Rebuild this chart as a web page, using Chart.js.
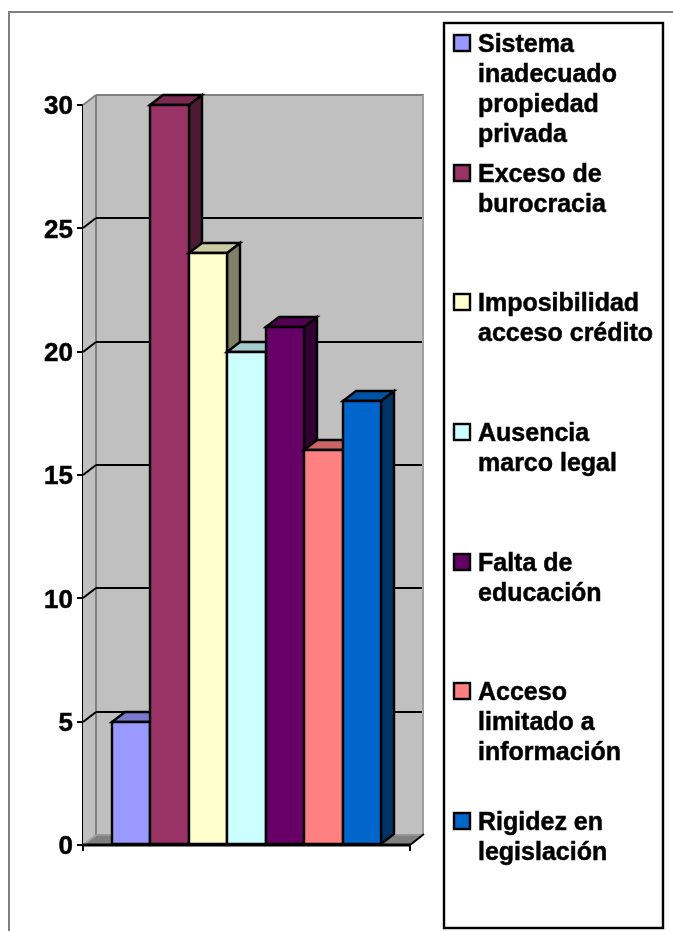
<!DOCTYPE html>
<html>
<head>
<meta charset="utf-8">
<style>
  html, body { margin: 0; padding: 0; background: #fff; overflow: hidden; }
  canvas { display: block; }
</style>
<script src="https://cdn.jsdelivr.net/npm/chart.js@4"></script>
</head>
<body>
<canvas id="myChart" width="673" height="931"></canvas>
<script>
const categories = [''];
const seriesNames = [
  ['Sistema', 'inadecuado', 'propiedad', 'privada'],
  ['Exceso de', 'burocracia'],
  ['Imposibilidad', 'acceso crédito'],
  ['Ausencia', 'marco legal'],
  ['Falta de', 'educación'],
  ['Acceso', 'limitado a', 'información'],
  ['Rigidez en', 'legislación']
];
const seriesValues = [5, 30, 24, 20, 21, 16, 18];
const seriesColors = ['#9999ff', '#993366', '#ffffcc', '#ccffff', '#660066', '#ff8080', '#0066cc'];
const tickValues = [0, 5, 10, 15, 20, 25, 30];

const FONT = 'bold 25px "Liberation Sans", Arial, sans-serif';
const DX = 13, DY = -10;    // depth of the 3d box
const EDGE = 2.4;           // bar and legend outlines

function shade(hex, k) {
  const n = parseInt(hex.slice(1), 16);
  const r = Math.round((n >> 16) * k), g = Math.round(((n >> 8) & 255) * k), b = Math.round((n & 255) * k);
  return 'rgb(' + r + ',' + g + ',' + b + ')';
}

function poly(ctx, pts, fill, stroke, lw) {
  ctx.beginPath();
  pts.forEach((p, i) => i ? ctx.lineTo(p[0], p[1]) : ctx.moveTo(p[0], p[1]));
  ctx.closePath();
  if (fill) { ctx.fillStyle = fill; ctx.fill(); }
  if (stroke) { ctx.strokeStyle = stroke; ctx.lineWidth = lw; ctx.lineJoin = 'miter'; ctx.stroke(); }
}

function line(ctx, x1, y1, x2, y2, color, lw) {
  ctx.beginPath();
  ctx.moveTo(x1, y1);
  ctx.lineTo(x2, y2);
  ctx.strokeStyle = color;
  ctx.lineWidth = lw;
  ctx.stroke();
}

// walls, floor and gridlines behind the bars
const walls = {
  id: 'walls',
  beforeDatasetsDraw(chart) {
    const ctx = chart.ctx, a = chart.chartArea, y = chart.scales.y;
    ctx.save();
    // outer frame, open on the right and at the bottom
    line(ctx, 9, 931, 9, 12, '#808080', 2);
    line(ctx, 8, 12, 673, 12, '#808080', 2);

    poly(ctx, [[a.left + DX, a.top + DY], [a.right + DX, a.top + DY], [a.right + DX, a.bottom + DY], [a.left + DX, a.bottom + DY]], '#c0c0c0');
    poly(ctx, [[a.left, a.top], [a.left + DX, a.top + DY], [a.left + DX, a.bottom + DY], [a.left, a.bottom]], '#c0c0c0');
    poly(ctx, [[a.left, a.bottom], [a.left + DX, a.bottom + DY], [a.right + DX, a.bottom + DY], [a.right, a.bottom]], '#808080');

    line(ctx, a.left + DX, a.top + DY, a.left + DX, a.bottom + DY, '#808080', 2);
    line(ctx, a.left + DX, a.top + DY, a.right + DX + 1, a.top + DY, '#808080', 2);
    line(ctx, a.right + DX, a.top + DY, a.right + DX, a.bottom + DY, '#a0a0a0', 2);
    line(ctx, a.left, a.top, a.left + DX, a.top + DY, '#808080', 2);
    line(ctx, a.left + DX, a.bottom + DY, a.right + DX, a.bottom + DY, '#969696', 2);
    line(ctx, a.left, a.bottom, a.left + DX, a.bottom + DY, '#a0a0a0', 2);
    line(ctx, a.right, a.bottom, a.right + DX + 1, a.bottom + DY - 1, '#000', 2);

    tickValues.forEach(v => {
      if (v === 0 || v === 30) return;
      const py = Math.round(y.getPixelForValue(v));
      line(ctx, a.left, py, a.left + DX, py + DY, '#000', 2);
      line(ctx, a.left + DX, py + DY, a.right + DX - 1, py + DY, '#000', 2);
    });
    ctx.restore();
  },
  // the bars go left to right so each one covers the side of the one before
  beforeDatasetDraw() {
    return false;
  },
  afterDatasetsDraw(chart) {
    const ctx = chart.ctx;
    ctx.save();
    chart.data.datasets.forEach((ds, i) => {
      const bar = chart.getDatasetMeta(i).data[0];
      const p = bar.getProps(['x', 'y', 'base', 'width'], true);
      const l = Math.round(p.x - p.width / 2), r = Math.round(p.x + p.width / 2);
      const t = Math.round(p.y), b = Math.round(p.base);
      const col = seriesColors[i];
      poly(ctx, [[r, t], [r + DX, t + DY], [r + DX, b + DY], [r, b]], shade(col, 0.5), '#000', EDGE);
      poly(ctx, [[l, t], [l + DX, t + DY], [r + DX, t + DY], [r, t]], shade(col, 0.8), '#000', EDGE);
      poly(ctx, [[l, t], [r, t], [r, b], [l, b]], col, '#000', EDGE);
    });
    // front bottom edge sits over the bars
    const a = chart.chartArea;
    line(ctx, a.left, a.bottom, a.right, a.bottom, '#000', 3);
    ctx.restore();
  }
};

// legend with wrapped entries, the built-in one can't break these lines
const sideLegend = {
  id: 'sideLegend',
  afterDraw(chart) {
    const ctx = chart.ctx;
    ctx.save();
    ctx.fillStyle = '#fff';
    ctx.fillRect(444, 23, 219, 905);
    ctx.strokeStyle = '#000';
    ctx.lineWidth = EDGE;
    ctx.strokeRect(444, 23, 219, 905);
    ctx.font = FONT;
    ctx.textAlign = 'left';
    ctx.textBaseline = 'alphabetic';
    seriesNames.forEach((lines, i) => {
      const base = 52 + i * 129.67;
      ctx.fillStyle = seriesColors[i];
      ctx.fillRect(454, Math.round(base) - 17, 16, 16);
      ctx.lineWidth = EDGE;
      ctx.strokeRect(454, Math.round(base) - 17, 16, 16);
      ctx.fillStyle = '#000';
      ctx.lineWidth = 0.5;
      lines.forEach((txt, j) => {
        ctx.fillText(txt, 478, Math.round(base + j * 30));
        ctx.strokeText(txt, 478, Math.round(base + j * 30));
      });
    });
    ctx.restore();
  }
};

new Chart(document.getElementById('myChart'), {
  type: 'bar',
  data: {
    labels: categories,
    datasets: seriesNames.map((n, i) => ({
      label: n.join(' '),
      data: [seriesValues[i]],
      backgroundColor: seriesColors[i],
      borderColor: '#000',
      borderWidth: 2,
      categoryPercentage: 0.824,
      barPercentage: 1
    }))
  },
  options: {
    responsive: false,
    animation: false,
    layout: { padding: { left: 0, top: 105, right: 263, bottom: 0 } },
    plugins: { legend: { display: false }, tooltip: { enabled: false } },
    scales: {
      x: {
        afterFit(s) { s.height = 86; },
        ticks: { display: false },
        border: { color: '#000', width: 2 },
        grid: { drawOnChartArea: false, color: '#000', lineWidth: 2, tickLength: 6, offset: true }
      },
      y: {
        min: 0,
        max: 30,
        afterFit(s) { s.width = 83; },
        afterBuildTicks(s) { s.ticks = tickValues.map(v => ({ value: v })); },
        ticks: {
          color: '#000',
          padding: 4,
          labelOffset: 2,
          textStrokeColor: '#000',
          textStrokeWidth: 0.5,
          font: { family: '"Liberation Sans", Arial, sans-serif', size: 26, weight: 'bold' }
        },
        border: { color: '#000', width: 2 },
        grid: { drawOnChartArea: false, color: '#000', lineWidth: 2, tickLength: 6 }
      }
    }
  },
  plugins: [walls, sideLegend]
});
</script>
</body>
</html>
